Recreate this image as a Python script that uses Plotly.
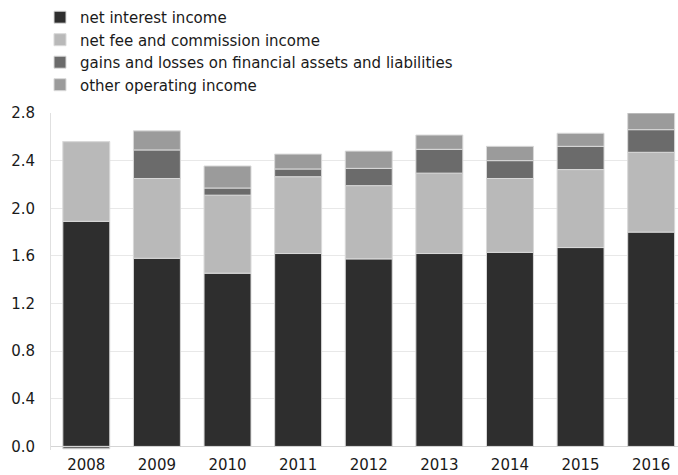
import plotly.graph_objects as go

years = ["2008", "2009", "2010", "2011", "2012", "2013", "2014", "2015", "2016"]
net_interest = [1.89, 1.58, 1.455, 1.62, 1.575, 1.62, 1.63, 1.67, 1.80]
net_fee = [0.67, 0.67, 0.655, 0.645, 0.615, 0.675, 0.62, 0.655, 0.67]
gains_losses = [-0.02, 0.24, 0.06, 0.065, 0.145, 0.20, 0.15, 0.195, 0.19]
other_income = [0.0, 0.16, 0.185, 0.125, 0.145, 0.12, 0.12, 0.11, 0.14]

names = ["net interest income", "net fee and commission income",
         "gains and losses on financial assets and liabilities", "other operating income"]
colors = ["#2e2e2e", "#b9b9b9", "#6b6b6b", "#9b9b9b"]
series = [net_interest, net_fee, gains_losses, other_income]

FONT = "DejaVu Sans, Liberation Sans, Arial, sans-serif"

fig = go.Figure()
for n, c, s in zip(names, colors, series):
    fig.add_trace(go.Bar(x=years, y=s, name=n,
                         marker=dict(color=c, line=dict(color="#d9d9d9", width=1))))

fig.update_layout(
    width=678, height=475,
    barmode="relative", bargap=0.335,
    plot_bgcolor="white", paper_bgcolor="white",
    margin=dict(l=51, r=0, t=113, b=25, autoexpand=False),
    font=dict(family=FONT, size=15, color="#1a1a1a"),
    showlegend=True,
    legend=dict(xref="container", yref="container", x=0.059, y=0.998,
                xanchor="left", yanchor="top", traceorder="normal",
                font=dict(size=15, family=FONT, color="#1a1a1a"),
                bgcolor="rgba(0,0,0,0)"),
    xaxis=dict(range=[-0.5, 8.38], showgrid=False, showline=False,
               ticks="outside", ticklen=1, tickcolor="rgba(0,0,0,0)",
               tickangle=0, tickfont=dict(size=15)),
    yaxis=dict(range=[-0.03, 2.8], dtick=0.4, tick0=0, tickformat=".1f",
               showgrid=True, gridcolor="#e8e8e8", gridwidth=1,
               zeroline=True, zerolinecolor="#d5d5d5", zerolinewidth=1,
               showline=True, linecolor="#e0e0e0", linewidth=1,
               ticks="outside", ticklen=12, tickcolor="rgba(0,0,0,0)",
               tickfont=dict(size=15)),
)

fig.write_html("out.html")
